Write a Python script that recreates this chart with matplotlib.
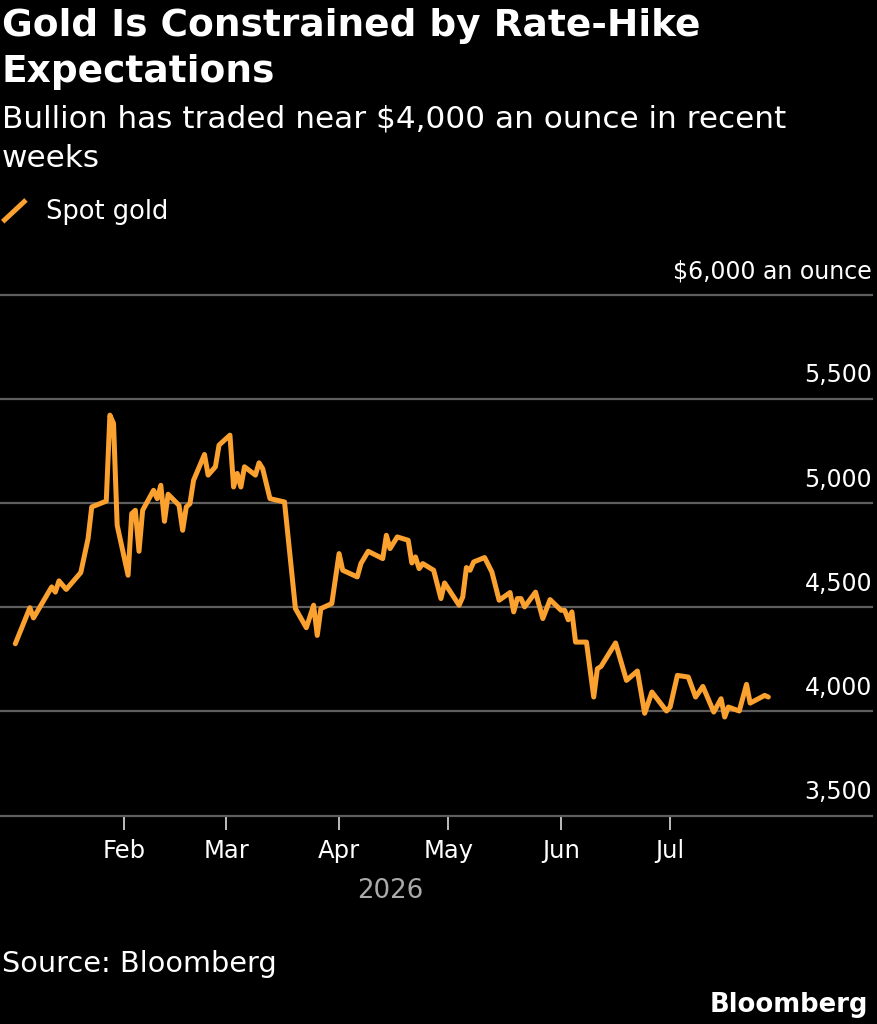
import pandas as pd
import matplotlib
matplotlib.use("Agg")
import matplotlib.pyplot as plt
from matplotlib.lines import Line2D

# spot gold ($ an ounce)
dates = [
    "2026-01-02", "2026-01-06", "2026-01-07", "2026-01-12", "2026-01-13", "2026-01-14",
    "2026-01-16", "2026-01-20", "2026-01-22", "2026-01-23", "2026-01-27", "2026-01-28",
    "2026-01-29", "2026-01-30", "2026-02-02", "2026-02-03", "2026-02-04", "2026-02-05",
    "2026-02-06", "2026-02-09", "2026-02-10", "2026-02-11", "2026-02-12", "2026-02-13",
    "2026-02-16", "2026-02-17", "2026-02-18", "2026-02-19", "2026-02-20", "2026-02-23",
    "2026-02-24", "2026-02-26", "2026-02-27", "2026-03-02", "2026-03-03", "2026-03-04",
    "2026-03-05", "2026-03-06", "2026-03-09", "2026-03-10", "2026-03-11", "2026-03-13",
    "2026-03-17", "2026-03-20", "2026-03-23", "2026-03-25", "2026-03-26", "2026-03-27",
    "2026-03-30", "2026-04-01", "2026-04-02", "2026-04-06", "2026-04-07", "2026-04-09",
    "2026-04-13", "2026-04-14", "2026-04-15", "2026-04-17", "2026-04-20", "2026-04-21",
    "2026-04-22", "2026-04-23", "2026-04-24", "2026-04-27", "2026-04-29", "2026-04-30",
    "2026-05-04", "2026-05-05", "2026-05-06", "2026-05-07", "2026-05-08", "2026-05-11",
    "2026-05-13", "2026-05-15", "2026-05-18", "2026-05-19", "2026-05-20", "2026-05-21",
    "2026-05-22", "2026-05-25", "2026-05-27", "2026-05-29", "2026-06-01", "2026-06-02",
    "2026-06-03", "2026-06-04", "2026-06-05", "2026-06-08", "2026-06-10", "2026-06-11",
    "2026-06-12", "2026-06-16", "2026-06-19", "2026-06-22", "2026-06-24", "2026-06-26",
    "2026-06-30", "2026-07-01", "2026-07-03", "2026-07-06", "2026-07-08", "2026-07-10",
    "2026-07-13", "2026-07-15", "2026-07-16", "2026-07-17", "2026-07-20", "2026-07-22",
    "2026-07-23", "2026-07-27", "2026-07-28",
]
spot_gold = [
    4325, 4498, 4449, 4598, 4573, 4627,
    4586, 4667, 4830, 4982, 5010, 5423,
    5383, 4894, 4654, 4950, 4966, 4769,
    4966, 5062, 5022, 5086, 4913, 5043,
    4990, 4870, 4982, 4998, 5110, 5234,
    5135, 5175, 5279, 5327, 5078, 5143,
    5078, 5175, 5135, 5194, 5166, 5022,
    5006, 4494, 4402, 4510, 4365, 4494,
    4518, 4758, 4678, 4646, 4710, 4769,
    4734, 4846, 4782, 4838, 4822, 4713,
    4742, 4686, 4710, 4678, 4542, 4617,
    4510, 4550, 4691, 4678, 4718, 4739,
    4670, 4534, 4571, 4478, 4542, 4542,
    4502, 4573, 4446, 4537, 4486, 4486,
    4440, 4478, 4333, 4333, 4069, 4205,
    4216, 4329, 4149, 4194, 3991, 4093,
    4002, 4021, 4173, 4165, 4069, 4120,
    3997, 4061, 3973, 4021, 4002, 4130,
    4040, 4077, 4069,
]

y_ticks = [3500, 4000, 4500, 5000, 5500, 6000]
y_labels = ["3,500", "4,000", "4,500", "5,000", "5,500", "$6,000 an ounce"]
month_ticks = ["2026-02-01", "2026-03-01", "2026-04-01", "2026-05-01", "2026-06-01", "2026-07-01"]
month_labels = ["Feb", "Mar", "Apr", "May", "Jun", "Jul"]

df = pd.DataFrame({"date": pd.to_datetime(dates), "spot": spot_gold})

ORANGE = "#FBA12F"
GRID = "#5e5e5e"

plt.rcParams["font.family"] = ["DejaVu Sans"]

fig = plt.figure(figsize=(8.78, 10.24), dpi=100, facecolor="black")
ax = fig.add_axes([0.0, 0.2036, 0.9932, 0.5083], facecolor="black")

ax.plot(df["date"], df["spot"], color=ORANGE, lw=3.6,
        solid_joinstyle="round", solid_capstyle="round")

ax.set_ylim(3500, 6000)
ax.set_xlim(pd.Timestamp("2025-12-28 19:00"), pd.Timestamp("2026-08-25 12:00"))

ax.set_yticks(y_ticks)
ax.tick_params(axis="y", left=False, right=False, labelleft=False)
ax.yaxis.grid(True, color=GRID, lw=1.6)
for gl in ax.get_ygridlines():
    gl.set_clip_on(False)
for v, lab in zip(y_ticks, y_labels):
    ax.annotate(lab, xy=(1, v), xycoords=("axes fraction", "data"),
                xytext=(0, 12), textcoords="offset points",
                ha="right", va="baseline", color="white", fontsize=17)

ax.set_xticks(pd.to_datetime(month_ticks))
ax.set_xticklabels(month_labels)
ax.tick_params(axis="x", direction="out", length=10, width=1.3, color="#cccccc",
               labelcolor="white", labelsize=17.5, pad=7)

for s in ax.spines.values():
    s.set_visible(False)

# headings
fig.text(0.002, 0.9648, "Gold Is Constrained by Rate-Hike", color="white",
         fontsize=27, fontweight="bold", va="baseline")
fig.text(0.002, 0.9202, "Expectations", color="white",
         fontsize=27, fontweight="bold", va="baseline")
fig.text(0.002, 0.8753, "Bullion has traded near $4,000 an ounce in recent",
         color="white", fontsize=22.4, va="baseline")
fig.text(0.002, 0.8372, "weeks", color="white", fontsize=22.4, va="baseline")

# legend
fig.add_artist(Line2D([0.0031, 0.0296], [0.7835, 0.8047], color=ORANGE, lw=3.6,
                      transform=fig.transFigure, solid_capstyle="butt"))
fig.text(0.0524, 0.7858, "Spot gold", color="white", fontsize=18.5, va="baseline")

fig.text(0.4442, 0.1230, "2026", color="#aaaaaa", fontsize=18.7, ha="center", va="baseline")
fig.text(0.002, 0.0508, "Source: Bloomberg", color="white", fontsize=20.7, va="baseline")
fig.text(0.9886, 0.0117, "Bloomberg", color="white", fontsize=18.6,
         fontweight="bold", ha="right", va="baseline")

fig.savefig("out.png", dpi=100, facecolor="black")
